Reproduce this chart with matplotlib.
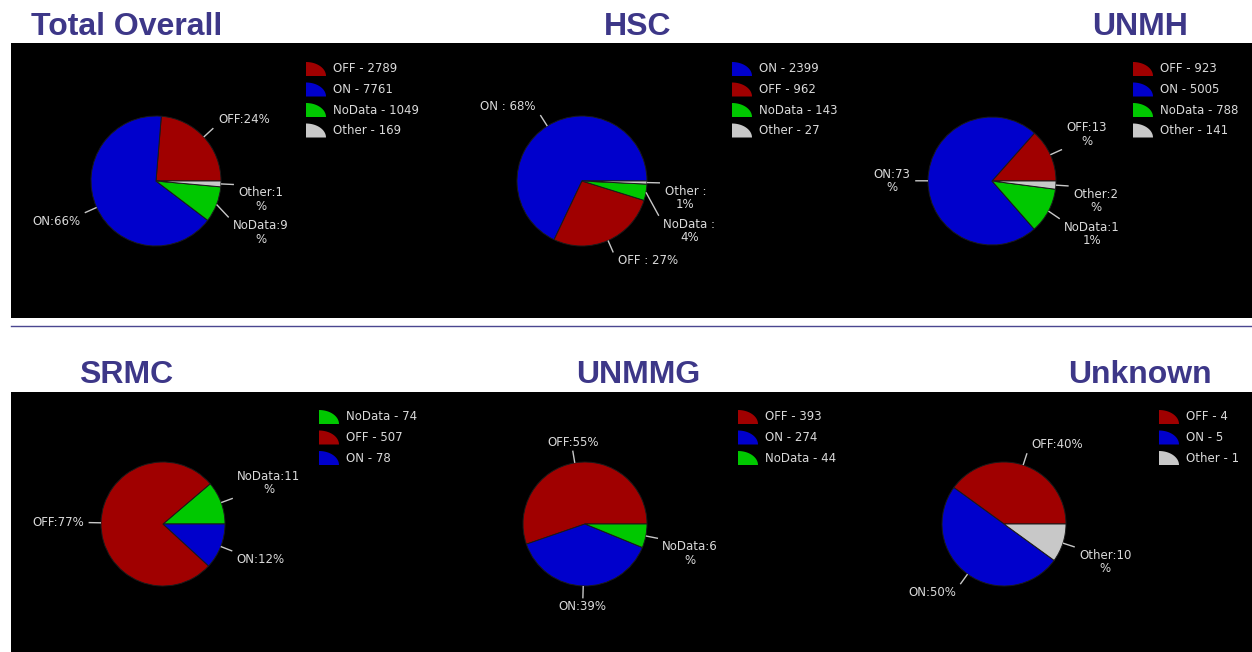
import numpy as np
import matplotlib
matplotlib.use("Agg")
import matplotlib.pyplot as plt
from matplotlib.patches import Rectangle, Polygon

W, H = 1252, 652

# ------------------------------------------------------------
# data (legend order == drawing order, counter-clockwise from 3 o'clock)
# ------------------------------------------------------------
TOTAL_CATS = ["OFF", "ON", "NoData", "Other"]
TOTAL_VALS = [2789, 7761, 1049, 169]
TOTAL_LABELS = ["OFF:24%", "ON:66%", "NoData:9\n%", "Other:1\n%"]

HSC_CATS = ["ON", "OFF", "NoData", "Other"]
HSC_VALS = [2399, 962, 143, 27]
HSC_LABELS = ["ON : 68%", "OFF : 27%", "NoData :\n4%", "Other :\n1%"]

UNMH_CATS = ["OFF", "ON", "NoData", "Other"]
UNMH_VALS = [923, 5005, 788, 141]
UNMH_LABELS = ["OFF:13\n%", "ON:73\n%", "NoData:1\n1%", "Other:2\n%"]

SRMC_CATS = ["NoData", "OFF", "ON"]
SRMC_VALS = [74, 507, 78]
SRMC_LABELS = ["NoData:11\n%", "OFF:77%", "ON:12%"]

UNMMG_CATS = ["OFF", "ON", "NoData"]
UNMMG_VALS = [393, 274, 44]
UNMMG_LABELS = ["OFF:55%", "ON:39%", "NoData:6\n%"]

UNKNOWN_CATS = ["OFF", "ON", "Other"]
UNKNOWN_VALS = [4, 5, 1]
UNKNOWN_LABELS = ["OFF:40%", "ON:50%", "Other:10\n%"]

COLORS = {"OFF": "#a00000", "ON": "#0000cc", "NoData": "#00c800", "Other": "#c8c8c8"}
TITLE_COLOR = "#3d3788"
TEXT_COLOR = "#dadada"

# layout in pixels: title x, title baseline, pie centre, radius, legend x, legend first row y
CHARTS = [
    ("Total Overall", TOTAL_CATS, TOTAL_VALS, TOTAL_LABELS, (127, 35), (156, 181), 65, (306, 69)),
    ("HSC", HSC_CATS, HSC_VALS, HSC_LABELS, (638, 35), (582, 181), 65, (732, 69)),
    ("UNMH", UNMH_CATS, UNMH_VALS, UNMH_LABELS, (1140, 35), (992, 181), 64, (1133, 69)),
    ("SRMC", SRMC_CATS, SRMC_VALS, SRMC_LABELS, (126, 383), (163, 524), 62, (319, 417)),
    ("UNMMG", UNMMG_CATS, UNMMG_VALS, UNMMG_LABELS, (638, 383), (585, 524), 62, (738, 417)),
    ("Unknown", UNKNOWN_CATS, UNKNOWN_VALS, UNKNOWN_LABELS, (1140, 383), (1004, 524), 62, (1159, 417)),
]


def draw_labels(ax, values, labels, r_px):
    """Outside labels with leader lines, pushed down on the right if they overlap."""
    total = float(sum(values))
    lh = 14.5 / r_px
    items = []
    start = 0.0
    for v, lab in zip(values, labels):
        mid = np.deg2rad(start + 180.0 * v / total)
        start += 360.0 * v / total
        c, s = np.cos(mid), np.sin(mid)
        ha = "left" if c > 0.3 else ("right" if c < -0.3 else "center")
        if s > 0.15:
            va = "bottom"
        elif s < -0.15 or c > 0:
            va = "top"
        else:
            va = "center"
        h = lh * (lab.count("\n") + 1)
        ay = 1.2 * s
        top = ay + {"top": 0.0, "center": h / 2, "bottom": h}[va]
        items.append(dict(c=c, s=s, ax=1.2 * c, ay=ay, ha=ha, va=va, h=h,
                          top=top, lab=lab))

    right = sorted([it for it in items if it["c"] > 0], key=lambda it: -it["top"])
    prev_bottom = None
    for it in right:
        if prev_bottom is not None and it["top"] > prev_bottom - 0.06:
            shift = it["top"] - (prev_bottom - 0.06)
            it["ay"] -= shift
            it["top"] -= shift
        prev_bottom = it["top"] - it["h"]

    for it in items:
        ax.plot([it["c"], it["ax"]], [it["s"], it["ay"]], color="#c8c8c8", lw=1.0,
                solid_capstyle="butt")
        dx = {"left": 0.07, "right": -0.07, "center": 0.0}[it["ha"]]
        dy = {"bottom": 0.03, "top": -0.03, "center": 0.0}[it["va"]]
        ax.text(it["ax"] + dx, it["ay"] + dy, it["lab"], ha=it["ha"], va=it["va"],
                multialignment="center", color=TEXT_COLOR, fontsize=8.5,
                linespacing=1.05, family="DejaVu Sans")


fig = plt.figure(figsize=(W / 100, H / 100), dpi=100, facecolor="white")

bg = fig.add_axes([0, 0, 1, 1])
bg.set_xlim(0, W)
bg.set_ylim(H, 0)
bg.axis("off")

# black panels and divider
bg.add_patch(Rectangle((11, 43), W - 11, 275, facecolor="black", edgecolor="none"))
bg.add_patch(Rectangle((11, 392), W - 11, H - 392, facecolor="black", edgecolor="none"))
bg.plot([11, W], [325.5, 325.5], color="#4a4690", lw=1.0)

S = 300  # pie axes side in px
for title, cats, vals, labels, (tx, ty), (cx, cy), r, (lx, ly) in CHARTS:
    bg.text(tx, ty, title, ha="center", va="baseline", fontsize=23,
            fontweight="bold", color=TITLE_COLOR, family="Liberation Sans")

    ax = fig.add_axes([(cx - S / 2) / W, (H - cy - S / 2) / H, S / W, S / H])
    ax.set_facecolor("none")
    ax.pie(vals, colors=[COLORS[c] for c in cats], startangle=0, counterclock=True,
           wedgeprops=dict(edgecolor="#1a1a1a", linewidth=0.7))
    lim = S / (2.0 * r)
    ax.set_xlim(-lim, lim)
    ax.set_ylim(-lim, lim)
    ax.set_aspect("equal")
    ax.axis("off")
    draw_labels(ax, vals, labels, r)

    # legend with quarter-pie icons
    t = np.linspace(0, np.pi / 2, 20)
    for i, (cat, v) in enumerate(zip(cats, vals)):
        yc = ly + i * 20.5
        pts = [(lx, yc + 7)] + [(lx + 20 * np.cos(a), yc + 7 - 14 * np.sin(a)) for a in t]
        bg.add_patch(Polygon(pts, closed=True, facecolor=COLORS[cat], edgecolor="none"))
        bg.text(lx + 27, yc, f"{cat} - {v}", ha="left", va="center", fontsize=8.5,
                color=TEXT_COLOR, family="DejaVu Sans")

fig.savefig("out.png", dpi=100, facecolor="white")
